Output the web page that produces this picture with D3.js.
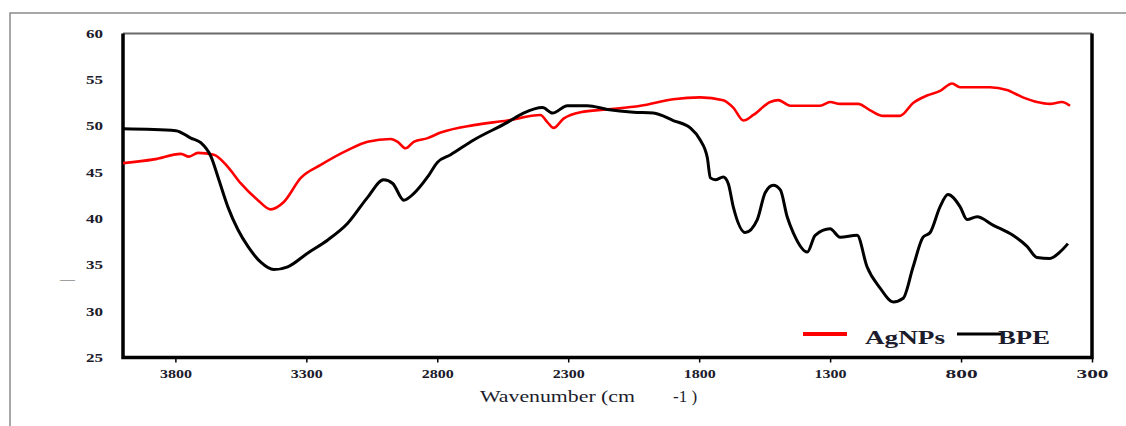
<!DOCTYPE html>
<html>
<meta charset="utf-8">
<style>
body {
  margin: 0;
  background-color: #fff;
}
text {
  font-family: "Liberation Serif", "Times New Roman", serif;
}
.tick text {
  font-size: 12px;
  font-weight: bold;
  fill: #1c1c2c;
}
.tick line {
  stroke: #000;
  stroke-width: 1.5px;
}
.domain {
  display: none;
}
.ftir {
  fill: none;
  stroke-linejoin: round;
}
</style>
<body>
<script src="https://d3js.org/d3.v7.min.js"></script>
<script>

// BPE spectrum (wavenumber, %T)
var bpeWave = [4000, 3798, 3741, 3703, 3664, 3634, 3600, 3561, 3523, 3474, 3424, 3371, 3294, 3218, 3142, 3066,
  3005, 2970, 2928, 2890, 2837, 2799, 2749, 2661, 2532, 2471, 2398, 2360, 2303, 2227, 2150, 2051, 1975, 1899,
  1834, 1796, 1769, 1757, 1738, 1708, 1689, 1670, 1624, 1578, 1548, 1517, 1490, 1464, 1441, 1387, 1357, 1300,
  1262, 1197, 1159, 1109, 1059, 1021, 983, 945, 918, 880, 850, 804, 777, 739, 678, 602, 548, 510, 461, 422, 392];
var bpeT = [49.7, 49.5, 48.7, 48.2, 46.7, 44.2, 41.3, 38.8, 37.0, 35.3, 34.5, 34.8, 36.3, 37.7, 39.5, 42.3,
  44.2, 43.8, 42.0, 42.7, 44.5, 46.1, 46.9, 48.5, 50.4, 51.4, 52.0, 51.4, 52.2, 52.2, 51.8, 51.5, 51.4, 50.6,
  49.8, 48.5, 46.6, 44.4, 44.2, 44.5, 43.8, 41.3, 38.5, 39.9, 42.8, 43.6, 43.1, 40.2, 38.5, 36.4, 38.2, 38.9,
  38.0, 38.2, 34.8, 32.5, 31.0, 31.4, 34.8, 38.0, 38.5, 41.3, 42.6, 41.3, 39.9, 40.2, 39.3, 38.2, 37.0, 35.8, 35.7, 36.4, 37.3];

// AgNPs spectrum
var agWave = [4000, 3882, 3779, 3748, 3714, 3653, 3600, 3550, 3485, 3436, 3386, 3321, 3245, 3142, 3066, 2978,
  2951, 2921, 2890, 2837, 2787, 2661, 2532, 2406, 2379, 2356, 2318, 2253, 2150, 2024, 1899, 1796, 1708, 1670,
  1631, 1593, 1529, 1498, 1452, 1338, 1300, 1262, 1193, 1147, 1098, 1033, 983, 930, 880, 834, 804, 690, 625,
  564, 510, 461, 415, 384];
var agT = [46.0, 46.4, 47.0, 46.7, 47.1, 46.9, 45.6, 43.8, 42.0, 41.0, 41.8, 44.4, 45.8, 47.4, 48.3, 48.6,
  48.3, 47.6, 48.3, 48.7, 49.3, 50.1, 50.6, 51.2, 50.4, 49.8, 50.8, 51.5, 51.8, 52.2, 52.9, 53.1, 52.8, 52.0,
  50.6, 51.2, 52.6, 52.8, 52.2, 52.2, 52.6, 52.4, 52.4, 51.7, 51.1, 51.1, 52.5, 53.3, 53.8, 54.6, 54.2, 54.2, 53.9,
  53.1, 52.6, 52.4, 52.6, 52.2];

var xTicks = [3800, 3300, 2800, 2300, 1800, 1300, 800, 300];
var yTicks = [25, 30, 35, 40, 45, 50, 55, 60];
var seriesNames = ["AgNPs", "BPE"];
var seriesColors = ["#ff0000", "#000000"];

var W = 1126, H = 426;
var plotL = 123, plotR = 1092, plotT = 33.5, plotB = 357.5;

var svg = d3.select("body")
  .append("svg")
  .attr("width", W)
  .attr("height", H);

// outer frame
svg.append("path")
  .attr("d", "M10," + H + "V13H" + W)
  .attr("fill", "none")
  .attr("stroke", "#8a8a8a")
  .attr("stroke-width", 1.5);

var x = d3.scaleLinear().domain([4000, 300]).range([plotL, plotR]);
var y = d3.scaleLinear().domain([25, 60]).range([plotB, plotT]);

// axes
svg.append("g")
  .attr("transform", "translate(0," + plotB + ")")
  .call(d3.axisBottom(x).tickValues(xTicks).tickSize(5).tickPadding(7).tickFormat(d3.format("d")))
  .selectAll(".tick text")
  .attr("textLength", 32)
  .attr("lengthAdjust", "spacingAndGlyphs");

svg.append("g")
  .attr("transform", "translate(" + plotL + ",0)")
  .call(d3.axisLeft(y).tickValues(yTicks).tickSize(0).tickPadding(20).tickFormat(d3.format("d")))
  .selectAll(".tick text")
  .attr("textLength", 17)
  .attr("lengthAdjust", "spacingAndGlyphs");

// plot frame
svg.append("line")
  .attr("x1", plotL).attr("x2", plotR).attr("y1", plotT).attr("y2", plotT)
  .attr("stroke", "#6a6a6a").attr("stroke-width", 2);
svg.append("path")
  .attr("d", "M" + plotL + "," + plotT + "V" + plotB + "H" + plotR + "V" + plotT)
  .attr("fill", "none")
  .attr("stroke", "#000")
  .attr("stroke-width", 3.5);

// spectra
var line = d3.line()
  .curve(d3.curveMonotoneX)
  .x(function(d) { return x(d[0]); })
  .y(function(d) { return y(d[1]); });

var agData = d3.zip(agWave, agT);
var bpeData = d3.zip(bpeWave, bpeT);

svg.append("path")
  .datum(agData)
  .attr("class", "ftir")
  .attr("stroke", seriesColors[0])
  .attr("stroke-width", 2.6)
  .attr("d", line);

svg.append("path")
  .datum(bpeData)
  .attr("class", "ftir")
  .attr("stroke", seriesColors[1])
  .attr("stroke-width", 3)
  .attr("d", line);

// legend
var legend = [
  {x1: 803, x2: 847, tx: 865, tw: 80, w: 4},
  {x1: 957, x2: 1002, tx: 998, tw: 52, w: 3}
];
legend.forEach(function(l, i) {
  svg.append("line")
    .attr("x1", l.x1).attr("x2", l.x2).attr("y1", 334).attr("y2", 334)
    .attr("stroke", seriesColors[i]).attr("stroke-width", l.w);
  svg.append("text")
    .attr("x", l.tx).attr("y", 344)
    .attr("font-size", 18).attr("font-weight", "bold")
    .attr("fill", "#1c1c2c")
    .attr("textLength", l.tw).attr("lengthAdjust", "spacingAndGlyphs")
    .text(seriesNames[i]);
});

// axis titles
svg.append("text")
  .attr("x", 480).attr("y", 402)
  .attr("font-size", 17)
  .attr("fill", "#1c1c2c")
  .attr("textLength", 155).attr("lengthAdjust", "spacingAndGlyphs")
  .text("Wavenumber (cm");
svg.append("text")
  .attr("x", 673).attr("y", 402)
  .attr("font-size", 17)
  .attr("fill", "#1c1c2c")
  .text("-1 )");

svg.append("text")
  .attr("x", 60).attr("y", 284)
  .attr("font-size", 15)
  .attr("fill", "#555")
  .attr("textLength", 15).attr("lengthAdjust", "spacingAndGlyphs")
  .text("—");

</script>
</body>
</html>
